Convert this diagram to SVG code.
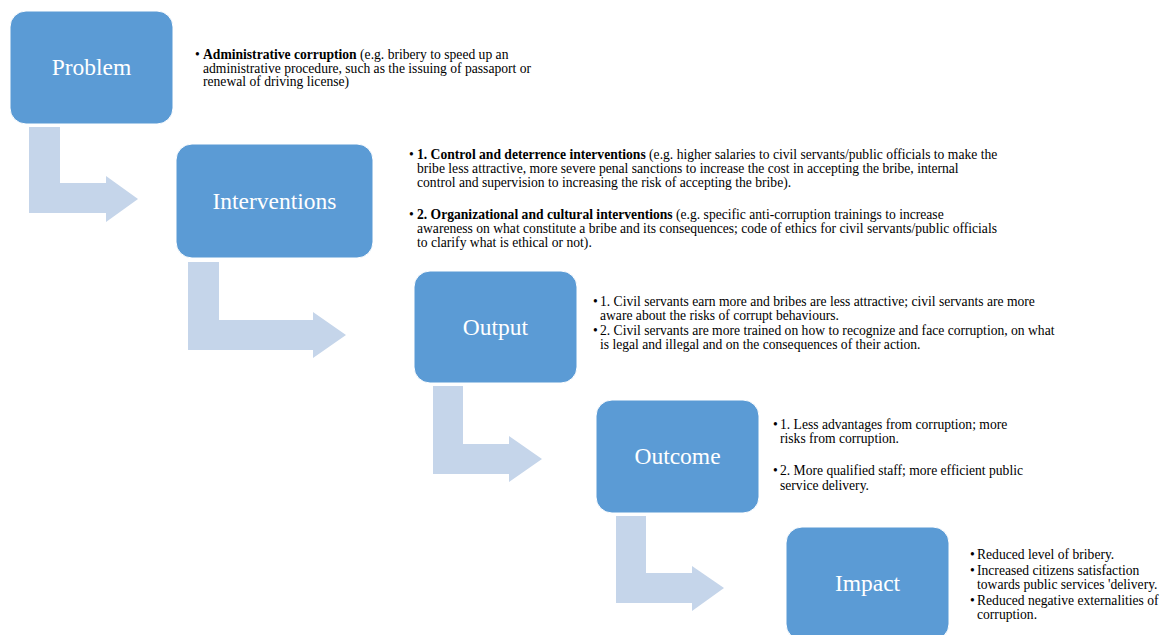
<svg xmlns="http://www.w3.org/2000/svg" width="1165" height="635" viewBox="0 0 1165 635">
<style>
.box{fill:#5B9BD5;stroke:#FFFFFF;stroke-width:1}
.lbl{font-size:23.5px;fill:#FFFFFF;text-anchor:middle}
.t{font-size:13.6px;fill:#000000}
.b{font-weight:bold}
.arr{fill:#C5D5EA}
</style>
<rect width="1165" height="635" fill="#FFFFFF"/>
<g id="connectors">
<path class="arr" d="M29,127 H60 V183 H106 V176 L138,199 L106,222 V213 H29 Z"/>
<path class="arr" d="M188,262 H219 V320 H313 V312 L346,335 L313,358 V350 H188 Z"/>
<path class="arr" d="M433,386 H463 V444 H509 V436 L542,459 L509,482 V474 H433 Z"/>
<path class="arr" d="M616,516 H646 V573 H692 V566 L724,588 L692,611 V603 H616 Z"/>
</g>
<g font-family="'Liberation Serif', 'DejaVu Serif', serif">
<g id="problem">
<rect class="box" x="10" y="11" width="163" height="113" rx="16"/>
<text class="lbl" x="91.5" y="75">Problem</text>
<text class="t"><tspan x="195" y="59">•</tspan><tspan x="203" y="59"><tspan class="b">Administrative corruption</tspan> (e.g. bribery to speed up an</tspan><tspan x="203" y="72.5">administrative procedure, such as the issuing of passaport or</tspan><tspan x="203" y="86">renewal of driving license)</tspan></text>
</g>
<g id="interventions">
<rect class="box" x="176" y="144" width="197" height="114" rx="16"/>
<text class="lbl" x="274.5" y="209">Interventions</text>
<text class="t"><tspan x="409" y="159">•</tspan><tspan x="417" y="159"><tspan class="b">1. Control and deterrence interventions</tspan> (e.g. higher salaries to civil servants/public officials to make the</tspan><tspan x="417" y="173">bribe less attractive, more severe penal sanctions to increase the cost in accepting the bribe, internal</tspan><tspan x="417" y="187">control and supervision to increasing the risk of accepting the bribe).</tspan><tspan x="409" y="219">•</tspan><tspan x="417" y="219"><tspan class="b">2. Organizational and cultural interventions</tspan> (e.g. specific anti-corruption trainings to increase</tspan><tspan x="417" y="233">awareness on what constitute a bribe and its consequences; code of ethics for civil servants/public officials</tspan><tspan x="417" y="247">to clarify what is ethical or not).</tspan></text>
</g>
<g id="output">
<rect class="box" x="414" y="271" width="163" height="112" rx="16"/>
<text class="lbl" x="495.5" y="335">Output</text>
<text class="t"><tspan x="593" y="306">•</tspan><tspan x="600" y="306">1. Civil servants earn more and bribes are less attractive; civil servants are more</tspan><tspan x="600" y="320">aware about the risks of corrupt behaviours.</tspan><tspan x="593" y="335">•</tspan><tspan x="600" y="335">2. Civil servants are more trained on how to recognize and face corruption, on what</tspan><tspan x="600" y="349">is legal and illegal and on the consequences of their action.</tspan></text>
</g>
<g id="outcome">
<rect class="box" x="596" y="400" width="163" height="113" rx="16"/>
<text class="lbl" x="677.5" y="464">Outcome</text>
<text class="t"><tspan x="773" y="429">•</tspan><tspan x="780" y="429">1. Less advantages from corruption; more</tspan><tspan x="780" y="443">risks from corruption.</tspan><tspan x="773" y="475">•</tspan><tspan x="780" y="475">2. More qualified staff; more efficient public</tspan><tspan x="780" y="490">service delivery.</tspan></text>
</g>
<g id="impact">
<rect class="box" x="786" y="527" width="163" height="113" rx="16"/>
<text class="lbl" x="867.5" y="591">Impact</text>
<text class="t"><tspan x="970" y="559">•</tspan><tspan x="977" y="559">Reduced level of bribery.</tspan><tspan x="970" y="575">•</tspan><tspan x="977" y="575">Increased citizens satisfaction</tspan><tspan x="977" y="589">towards public services 'delivery.</tspan><tspan x="970" y="605">•</tspan><tspan x="977" y="605">Reduced negative externalities of</tspan><tspan x="977" y="619">corruption.</tspan></text>
</g>
</g>
</svg>
